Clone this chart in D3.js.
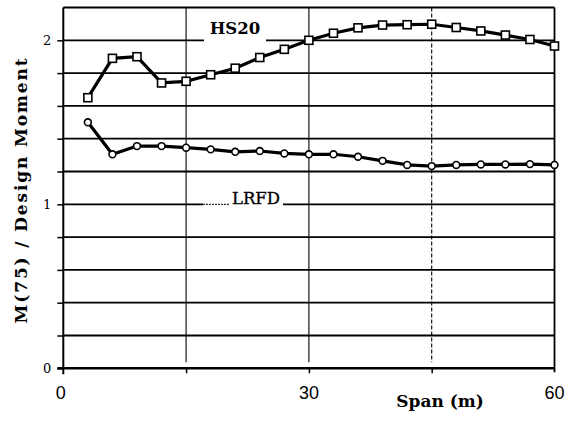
<!DOCTYPE html>
<html>
<head>
<meta charset="utf-8">
<script src="https://cdn.jsdelivr.net/npm/d3@7/dist/d3.min.js"></script>
<style>
  html, body { margin: 0; padding: 0; background: #fff; }
  svg { display: block; }
</style>
</head>
<body>
<svg id="chart" width="569" height="423"></svg>
<script>
// ---- data ----
const spans = [3, 6, 9, 12, 15, 18, 21, 24, 27, 30, 33, 36, 39, 42, 45, 48, 51, 54, 57, 60];
const hs20 = [1.65, 1.89, 1.90, 1.74, 1.75, 1.79, 1.83, 1.895, 1.945, 2.00, 2.043, 2.076, 2.093, 2.095, 2.098, 2.078, 2.057, 2.032, 2.005, 1.965];
const lrfd = [1.50, 1.305, 1.355, 1.355, 1.345, 1.335, 1.32, 1.325, 1.31, 1.305, 1.305, 1.29, 1.265, 1.24, 1.233, 1.24, 1.243, 1.243, 1.245, 1.24];
const xTickLabels = [0, 30, 60];
const xGridValues = [15, 30, 45];
const yTickLabels = [0, 1, 2];
const yGridValues = [0.2, 0.4, 0.6, 0.8, 1.0, 1.2, 1.4, 1.6, 1.8, 2.0];
const seriesNames = ["HS20", "LRFD"];
const xTitle = "Span (m)";
const yTitle = "M(75) / Design Moment";

// ---- layout ----
const svg = d3.select("#chart");
const L = 63.3, R = 554.5, T = 7.5, B = 368.3;
const x = d3.scaleLinear().domain([0, 60]).range([L, R]);
const y = d3.scaleLinear().domain([0, 2.2]).range([B, T]);
const serif = "'DejaVu Serif', 'Liberation Serif', serif";
const sans = "'Liberation Sans', Arial, sans-serif";

// horizontal gridlines
svg.append("g").selectAll("line").data(yGridValues).join("line")
  .attr("x1", L).attr("x2", R)
  .attr("y1", d => y(d)).attr("y2", d => y(d))
  .attr("stroke", "#000").attr("stroke-width", 1.8);

// vertical gridlines
svg.append("g").selectAll("line").data(xGridValues).join("line")
  .attr("x1", d => x(d)).attr("x2", d => x(d))
  .attr("y1", T).attr("y2", B - 6)
  .attr("stroke", "#000").attr("stroke-width", 1.1)
  .attr("stroke-dasharray", d => d === 45 ? "4,2" : null);

// frame: top, right
svg.append("line").attr("x1", L).attr("x2", R).attr("y1", T).attr("y2", T)
  .attr("stroke", "#000").attr("stroke-width", 1.8);
svg.append("line").attr("x1", R).attr("x2", R).attr("y1", T).attr("y2", B + 4)
  .attr("stroke", "#000").attr("stroke-width", 1.8);

// y axis with ticks every 0.2
const yAxis = d3.axisLeft(y).tickValues([0].concat(yGridValues)).tickSize(6).tickFormat("");
const gy = svg.append("g").attr("transform", `translate(${L},0)`).call(yAxis);
gy.select(".domain").remove();
gy.selectAll(".tick line").attr("stroke", "#000").attr("stroke-width", 1.5);
svg.append("line").attr("x1", L).attr("x2", L).attr("y1", T).attr("y2", B + 6)
  .attr("stroke", "#000").attr("stroke-width", 2);

// x axis
const xAxis = d3.axisBottom(x).tickValues([15, 30, 45]).tickSize(5).tickFormat("");
const gx = svg.append("g").attr("transform", `translate(0,${B})`).call(xAxis);
gx.select(".domain").remove();
gx.selectAll(".tick line").attr("stroke", "#000").attr("stroke-width", 1.5);
svg.append("line").attr("x1", L - 6).attr("x2", R).attr("y1", B).attr("y2", B)
  .attr("stroke", "#000").attr("stroke-width", 2.4);

// y tick labels
svg.append("g").selectAll("text").data(yTickLabels).join("text")
  .attr("x", L - 12).attr("y", d => y(d) + 4.5)
  .attr("text-anchor", "end")
  .attr("font-family", serif).attr("font-size", 13)
  .text(d => d);

// x tick labels
svg.append("g").selectAll("text").data(xTickLabels).join("text")
  .attr("x", d => x(d) + (d === 0 ? -2.5 : 0)).attr("y", 398.5)
  .attr("text-anchor", "middle")
  .attr("font-family", sans).attr("font-size", 18)
  .text(d => d);

// axis titles
svg.append("text")
  .attr("x", 440).attr("y", 407)
  .attr("text-anchor", "middle")
  .attr("font-family", serif).attr("font-weight", "bold").attr("font-size", 17)
  .text(xTitle);

const yt = svg.append("text")
  .attr("transform", "translate(27,190) rotate(-90)")
  .attr("text-anchor", "middle")
  .attr("font-family", serif).attr("font-weight", "bold").attr("font-size", 17)
  .text(yTitle);
const len = yt.node().getComputedTextLength();
if (len > 0 && len < 265) yt.attr("letter-spacing", (265 - len) / (yTitle.length - 1));

// series labels with gaps in gridlines
svg.append("rect").attr("x", 204).attr("y", y(2) - 4).attr("width", 62).attr("height", 8).attr("fill", "#fff");
svg.append("text")
  .attr("x", 235).attr("y", 34)
  .attr("text-anchor", "middle")
  .attr("font-family", serif).attr("font-weight", "bold").attr("font-size", 16.5)
  .text(seriesNames[0]);

svg.append("rect").attr("x", 203).attr("y", y(1) - 4).attr("width", 80).attr("height", 8).attr("fill", "#fff");
svg.append("line").attr("x1", 203).attr("x2", 229).attr("y1", y(1)).attr("y2", y(1))
  .attr("stroke", "#000").attr("stroke-width", 1).attr("stroke-dasharray", "2,1");
svg.append("text")
  .attr("x", 256).attr("y", 203.5)
  .attr("text-anchor", "middle")
  .attr("font-family", serif).attr("font-size", 16.5)
  .attr("stroke", "#000").attr("stroke-width", 0.35)
  .text(seriesNames[1]);

// data lines
const line = d3.line().x(d => x(d[0])).y(d => y(d[1]));
const hsData = spans.map((s, i) => [s, hs20[i]]);
const lrData = spans.map((s, i) => [s, lrfd[i]]);

svg.append("path").datum(hsData).attr("d", line)
  .attr("fill", "none").attr("stroke", "#000").attr("stroke-width", 3.2);
svg.append("path").datum(lrData).attr("d", line)
  .attr("fill", "none").attr("stroke", "#000").attr("stroke-width", 3.2);

// markers
svg.append("g").selectAll("rect").data(hsData).join("rect")
  .attr("x", d => x(d[0]) - 4).attr("y", d => y(d[1]) - 4)
  .attr("width", 8).attr("height", 8)
  .attr("fill", "#fff").attr("stroke", "#000").attr("stroke-width", 1.6);
svg.append("g").selectAll("circle").data(lrData).join("circle")
  .attr("cx", d => x(d[0])).attr("cy", d => y(d[1])).attr("r", 3.4)
  .attr("fill", "#fff").attr("stroke", "#000").attr("stroke-width", 1.6);
</script>
</body>
</html>
